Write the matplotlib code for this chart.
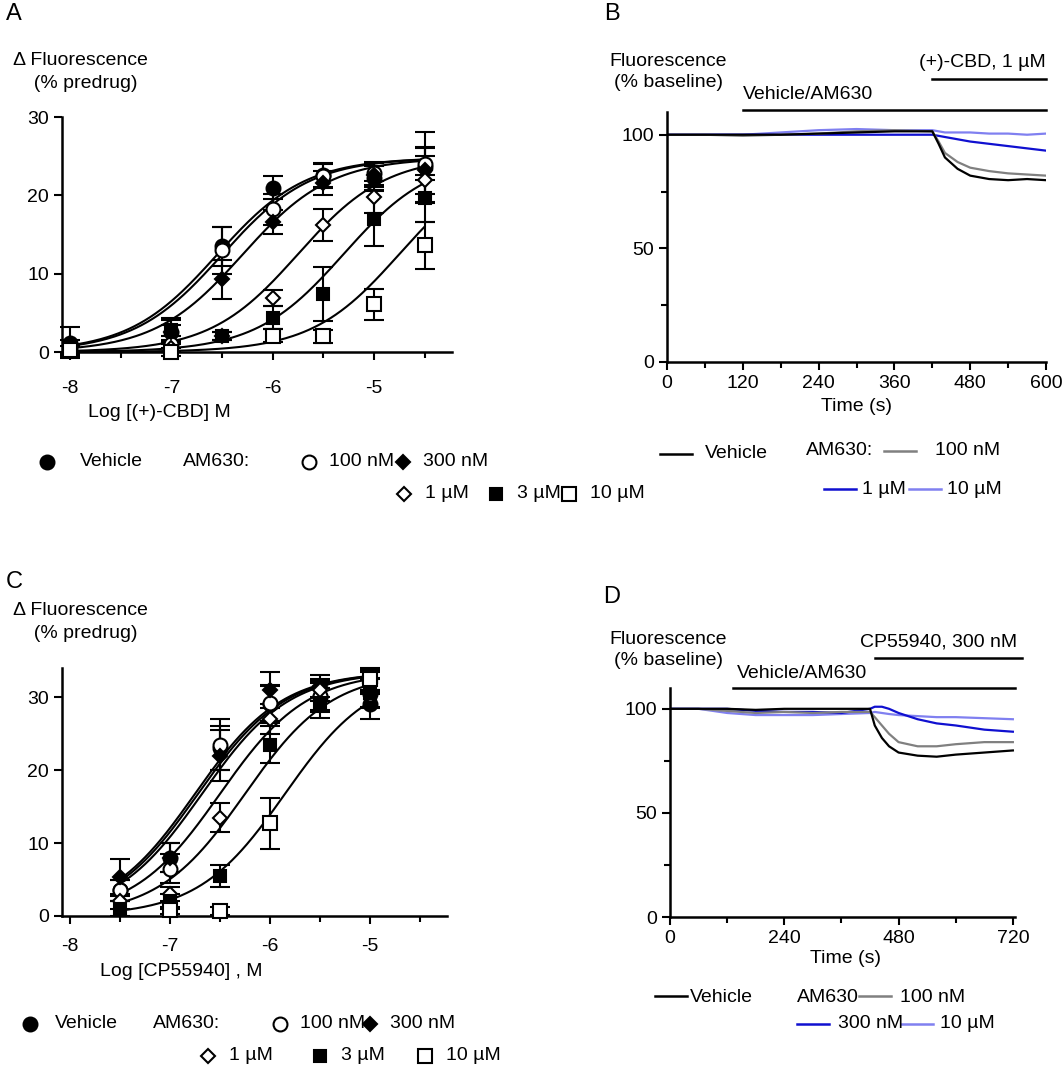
import numpy as np
import matplotlib
matplotlib.use("Agg")
import matplotlib.pyplot as plt
from matplotlib.lines import Line2D

plt.rcParams['font.family'] = ['Arial', 'Liberation Sans', 'DejaVu Sans']
plt.rcParams['font.size'] = 14
FS = 14

# ---------------- Panel A data ----------------
a_x = [-8, -7, -6.5, -6, -5.5, -5, -4.5]
a_labels = ["Vehicle", "100 nM", "300 nM", "1 µM", "3 µM", "10 µM"]
a_veh   = [1.2, 2.6, 13.5, 21.0, 22.6, 22.2, 23.6]
a_100   = [0.5, 1.0, 13.0, 18.2, 22.5, 22.8, 24.0]
a_300   = [None, 2.5, 9.3, 16.6, 21.6, 22.6, 23.2]
a_1u    = [None, 0.5, 2.0, 6.9, 16.2, 19.8, 22.0]
a_3u    = [None, 2.8, 2.0, 4.4, 7.4, 17.0, 19.6]
a_10u   = [0.3, 0.0, None, 2.1, 2.0, 6.1, 13.6]
a_err   = [[2, 1.5, 2.5, 1.5, 1.5, 1.5, 4.5], [1, 1, 3, 2, 1.5, 1.5, 2],
           [0, 1, 2.5, 1.5, 1.5, 1.5, 3], [0, 0.5, 0.5, 1, 2, 2, 3],
           [0, 1.5, 0.5, 1.5, 3.5, 3.5, 3], [0.5, 0.5, 0, 0.8, 0.8, 2, 3]]
a_ec50  = [-6.55, -6.5, -6.3, -5.75, -5.3, -4.75]
a_top   = [24.8, 24.8, 24.8, 25.0, 25.0, 25.0]

# ---------------- Panel C data ----------------
c_x = [-7.5, -7, -6.5, -6, -5.5, -5]
c_veh = [3.5, 8.0, 23.0, 29.0, 30.0, 29.0]
c_100 = [3.5, 6.5, 23.5, 29.2, 30.2, 30.5]
c_300 = [5.3, 8.0, 22.0, 31.0, 31.5, 32.0]
c_1u  = [2.0, 3.0, 13.5, 27.0, 31.0, 32.2]
c_3u  = [1.0, 2.0, 5.5, 23.5, 29.2, 30.6]
c_10u = [None, 0.8, 0.7, 12.7, None, 32.5]
c_err = [[1.5, 2, 3, 2.5, 2, 2], [1.5, 2, 3.5, 2.5, 2, 2], [2.5, 2, 3.5, 2.5, 1.5, 1.5],
         [1, 1, 2, 2, 1.5, 1.5], [1, 1, 1.5, 2.5, 2, 2], [0, 0.5, 0.5, 3.5, 0, 1.5]]
c_ec50 = [-6.75, -6.72, -6.68, -6.5, -6.25, -5.85]
c_top = [33.5, 33.5, 33.5, 33.5, 33.5, 33.5]

markers = ['o', 'o', 'D', 'D', 's', 's']
mfaces = ['black', 'white', 'black', 'white', 'black', 'white']
msizes = [10, 10, 7.5, 7.5, 9, 10]

# ---------------- Panel B traces (key points) ----------------
b_t = [0, 60, 120, 180, 240, 300, 360, 420, 430, 440, 460, 480, 510, 540, 570, 600]
b_veh = [100, 100, 100, 100, 100.5, 101, 101.5, 101.5, 96, 90, 85, 82, 80.5, 80, 80.5, 80]
b_100 = [100, 100, 99.5, 100, 100.5, 101.5, 102, 101.5, 97, 92, 88, 85.5, 84, 83, 82.5, 82]
b_1u = [100, 100, 100, 100, 100, 100, 100, 100, 99.5, 99, 98, 97, 96, 95, 94, 93]
b_10u = [100, 100, 100, 101, 102, 102.5, 102, 102, 101.5, 101, 101, 101, 100.5, 100.5, 100, 100.5]

# ---------------- Panel D traces (key points) ----------------
d_t = [0, 60, 120, 180, 240, 300, 360, 420, 430, 445, 460, 480, 520, 560, 600, 660, 720]
d_veh = [100, 100, 100, 99.5, 100, 100, 100, 100, 92, 86, 82, 79, 77.5, 77, 78, 79, 80]
d_100 = [100, 100, 99, 98, 98.5, 98, 98.5, 98.5, 96, 92, 88, 84, 82, 82, 83, 84, 84]
d_300 = [100, 100, 100, 99, 98.5, 98.5, 98, 100, 101, 101, 100, 98, 95, 93, 92, 90, 89]
d_10u = [100, 100, 98, 97, 97, 97, 97.5, 98, 98.5, 98, 97.5, 97, 96.5, 96, 96, 95.5, 95]

b_colors = ['black', '#808080', '#1010d0', '#8080f0']

fig = plt.figure(figsize=(10.64, 10.72), dpi=100)
W, H = 1064, 1072

def pax(l, t, r, b):
    return fig.add_axes([l / W, 1 - b / H, (r - l) / W, (b - t) / H])

def hill(x, top, ec50):
    return top / (1 + 10 ** (ec50 - x))

def style(ax):
    for s in ['top', 'right']:
        ax.spines[s].set_visible(False)
    for s in ['left', 'bottom']:
        ax.spines[s].set_linewidth(1.8)
    ax.tick_params(width=1.5, length=6, labelsize=FS)
    ax.tick_params(which='minor', width=1.5, length=4)

def dose_panel(ax, xs, series, errs, ec50, top, xlim, ylim, yticks, xlabel):
    xf = np.linspace(xs[0], xs[-1], 200)
    for i, ys in enumerate(series):
        ax.plot(xf, hill(xf, top[i], ec50[i]), color='black', lw=1.5, zorder=2)
    for i, ys in enumerate(series):
        for x, y, e in zip(xs, ys, errs[i]):
            if y is None:
                continue
            ax.errorbar(x, y, yerr=e, fmt=markers[i], mfc=mfaces[i], mec='black',
                        mew=1.5, ms=msizes[i], ecolor='black', elinewidth=1.5,
                        capsize=7, capthick=1.5, clip_on=False, zorder=3)
    ax.set_xlim(*xlim)
    ax.set_ylim(*ylim)
    ax.set_yticks(yticks)
    ax.set_xticks([-8, -7, -6, -5])
    ax.set_xticks([-7.5, -6.5, -5.5, -4.5], minor=True)
    ax.spines['bottom'].set_position(('data', 0))
    ax.set_xlabel(xlabel, fontsize=FS)
    style(ax)

# Panel A
axA = pax(62, 117, 452, 352)
dose_panel(axA, a_x, [a_veh, a_100, a_300, a_1u, a_3u, a_10u], a_err, a_ec50, a_top,
           (-8.08, -4.23), (0, 30), [0, 10, 20, 30], "Log [(+)-CBD] M")
axA.set_xticklabels(['-8', '-7', '-6', '-5'])
axA.tick_params(axis='x', pad=14)
axA.xaxis.set_label_coords(0.25, -0.22)

# Panel C
axC = pax(62, 668, 447, 916)
dose_panel(axC, c_x, [c_veh, c_100, c_300, c_1u, c_3u, c_10u], c_err, c_ec50, c_top,
           (-8.08, -4.23), (0, 34), [0, 10, 20, 30], "Log [CP55940] , M")
axC.set_xticklabels(['-8', '-7', '-6', '-5'])
axC.set_xticks([-7.5, -6.5, -5.5, -4.5, -7, -6], minor=True)
axC.tick_params(axis='x', pad=10)
axC.xaxis.set_label_coords(0.31, -0.19)

# Panel B
axB = pax(667, 112, 1046, 362)
for y, c in zip([b_10u, b_1u, b_100, b_veh], b_colors[::-1]):
    axB.plot(b_t, y, color=c, lw=1.6)
axB.set_xlim(0, 600)
axB.set_ylim(0, 110)
axB.set_yticks([0, 50, 100])
axB.set_yticks([25, 75], minor=True)
axB.set_xticks(range(0, 601, 120))
axB.set_xticks(range(60, 601, 120), minor=True)
axB.set_xlabel("Time (s)", fontsize=FS, labelpad=4)
style(axB)
axB.plot([120, 600], [111, 111], color='black', lw=1.8, clip_on=False)
axB.plot([420, 600], [124.5, 124.5], color='black', lw=1.8, clip_on=False)
axB.text(120, 114, "Vehicle/AM630", fontsize=FS, ha='left', va='bottom')
axB.text(600, 128, "(+)-CBD, 1 µM", fontsize=FS, ha='right', va='bottom')

# Panel D
axD = pax(670, 688, 1020, 917)
for y, c in zip([d_10u, d_300, d_100, d_veh], b_colors[::-1]):
    axD.plot(d_t, y, color=c, lw=1.6)
axD.set_xlim(0, 735)
axD.set_ylim(0, 110)
axD.set_yticks([0, 50, 100])
axD.set_yticks([25, 75], minor=True)
axD.set_xticks([0, 240, 480, 720])
axD.set_xticks([120, 360, 600], minor=True)
axD.spines['bottom'].set_bounds(0, 725)
axD.set_xlabel("Time (s)", fontsize=FS, labelpad=2)
style(axD)
axD.plot([133, 725], [110, 110], color='black', lw=1.8, clip_on=False)
axD.plot([430, 740], [124.5, 124.5], color='black', lw=1.8, clip_on=False)
axD.text(140, 113, "Vehicle/AM630", fontsize=FS, ha='left', va='bottom')
axD.text(730, 128, "CP55940, 300 nM", fontsize=FS, ha='right', va='bottom')

def ftext(x, y, s, fontsize=FS, **kw):
    fig.text(x / W, 1 - y / H, s, fontsize=fontsize, **kw)

ftext(80, 72, "Δ Fluorescence\n  (% predrug)", ha='center', va='center', linespacing=1.5)
ftext(80, 622, "Δ Fluorescence\n  (% predrug)", ha='center', va='center', linespacing=1.5)
ftext(668, 72, "Fluorescence\n(% baseline)", ha='center', va='center', linespacing=1.3)
ftext(668, 650, "Fluorescence\n(% baseline)", ha='center', va='center', linespacing=1.3)

for s, x, y in [("A", 14, 14), ("B", 612, 14), ("C", 14, 582), ("D", 612, 597)]:
    ftext(x, y, s, fontsize=17, va='center', ha='center')

def fmark(x, y, i):
    fig.add_artist(Line2D([x / W], [1 - y / H], marker=markers[i], mfc=mfaces[i], mec='black',
                          mew=1.5, ms=msizes[i], ls='none'))

def fline(x, y, c):
    fig.add_artist(Line2D([(x - 16) / W, (x + 16) / W], [1 - y / H] * 2, color=c, lw=1.8))

def dose_legend(y1, y2, xs1, xs2, texts_x, vx):
    fmark(xs1[0], y1, 0); ftext(vx, y1, a_labels[0], va='center')
    ftext(texts_x, y1, "AM630:", va='center')
    fmark(xs1[1], y1, 1); ftext(xs1[1] + 20, y1, a_labels[1], va='center')
    fmark(xs1[2], y1, 2); ftext(xs1[2] + 20, y1, a_labels[2], va='center')
    for k in range(3):
        fmark(xs2[k], y2, 3 + k); ftext(xs2[k] + 21, y2, a_labels[3 + k], va='center')

dose_legend(462, 494, [47, 309, 403], [404, 496, 569], 183, 80)
dose_legend(1024, 1056, [30, 280, 370], [208, 320, 425], 153, 55)

# Legend B
fline(676, 454, b_colors[0]); ftext(705, 454, "Vehicle", va='center')
ftext(806, 451, "AM630:", va='center'); fline(900, 451, b_colors[1]); ftext(935, 451, "100 nM", va='center')
fline(840, 489, b_colors[2]); ftext(862, 489, "1 µM", va='center')
fline(925, 489, b_colors[3]); ftext(947, 489, "10 µM", va='center')

# Legend D
fline(671, 996, b_colors[0]); ftext(690, 998, "Vehicle", va='center')
ftext(797, 997, "AM630", va='center'); fline(875, 996, b_colors[1]); ftext(900, 997, "100 nM", va='center')
fline(813, 1024, b_colors[2]); ftext(838, 1024, "300 nM", va='center')
fline(917, 1024, b_colors[3]); ftext(940, 1024, "10 µM", va='center')

fig.savefig("out.png", dpi=100)
